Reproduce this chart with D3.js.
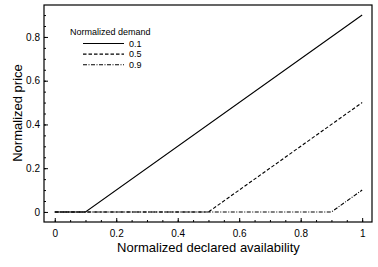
<!DOCTYPE html>
<html>
<head>
<meta charset="utf-8">
<script src="https://cdn.jsdelivr.net/npm/d3@7"></script>
<style>
  body { margin: 0; background: #fff; }
  svg { display: block; font-family: 'Liberation Sans', Arial, sans-serif; }
</style>
</head>
<body>
<script>
const width = 378;
const height = 267;
const margin = { top: 5, right: 6, bottom: 45, left: 44 };

// demand levels and their (availability, price) points
const demands = ['0.1', '0.5', '0.9'];
const availability01 = [0, 0.1, 1];
const price01 = [0, 0, 0.9];
const availability05 = [0, 0.5, 1];
const price05 = [0, 0, 0.5];
const availability09 = [0, 0.9, 1];
const price09 = [0, 0, 0.1];
const xTicks = [0, 0.2, 0.4, 0.6, 0.8, 1];
const yTicks = [0, 0.2, 0.4, 0.6, 0.8];

const series = [
  { name: demands[0], xs: availability01, ys: price01, dash: null },
  { name: demands[1], xs: availability05, ys: price05, dash: '3.5,2' },
  { name: demands[2], xs: availability09, ys: price09, dash: '4,1.5,1,1.5' }
];

const svg = d3.select('body').append('svg')
  .attr('width', width)
  .attr('height', height);

const x = d3.scaleLinear()
  .domain([-0.035, 1.032])
  .range([margin.left, width - margin.right]);

const y = d3.scaleLinear()
  .domain([-0.046, 0.946])
  .range([height - margin.bottom, margin.top]);

// minor ticks
const xMinor = d3.range(0, 1.001, 0.05);
const yMinor = d3.range(0, 0.901, 0.05);

svg.append('g')
  .attr('transform', `translate(0,${height - margin.bottom})`)
  .call(d3.axisBottom(x).tickValues(xMinor).tickSize(-2).tickFormat(''))
  .call(g => g.select('.domain').remove());

svg.append('g')
  .attr('transform', `translate(${margin.left},0)`)
  .call(d3.axisLeft(y).tickValues(yMinor).tickSize(-2).tickFormat(''))
  .call(g => g.select('.domain').remove());

svg.append('g')
  .attr('transform', `translate(0,${height - margin.bottom})`)
  .call(d3.axisBottom(x).tickValues(xTicks).tickSize(-4).tickPadding(8)
    .tickFormat(d3.format('~g')))
  .call(g => g.select('.domain').remove())
  .call(g => g.selectAll('text').attr('font-size', 10).attr('fill', '#000'));

svg.append('g')
  .attr('transform', `translate(${margin.left},0)`)
  .call(d3.axisLeft(y).tickValues(yTicks).tickSize(-4).tickPadding(4)
    .tickFormat(d3.format('~g')))
  .call(g => g.select('.domain').remove())
  .call(g => g.selectAll('text').attr('font-size', 10).attr('fill', '#000'));

// frame
svg.append('rect')
  .attr('x', margin.left)
  .attr('y', margin.top)
  .attr('width', width - margin.left - margin.right)
  .attr('height', height - margin.top - margin.bottom)
  .attr('fill', 'none')
  .attr('stroke', '#000')
  .attr('stroke-width', 1.2);

const line = d3.line()
  .x(d => x(d[0]))
  .y(d => y(d[1]));

svg.append('g')
  .selectAll('path')
  .data(series)
  .join('path')
  .attr('d', d => line(d.xs.map((v, i) => [v, d.ys[i]])))
  .attr('fill', 'none')
  .attr('stroke', '#000')
  .attr('stroke-width', 1.1)
  .attr('stroke-dasharray', d => d.dash);

// legend
const legend = svg.append('g');

legend.append('text')
  .attr('x', 70)
  .attr('y', 35)
  .attr('font-size', 9)
  .text('Normalized demand');

const rows = legend.selectAll('g')
  .data(series)
  .join('g')
  .attr('transform', (d, i) => `translate(0,${43.5 + i * 10.6})`);

rows.append('line')
  .attr('x1', 83)
  .attr('x2', 124)
  .attr('stroke', '#000')
  .attr('stroke-width', 1.1)
  .attr('stroke-dasharray', d => d.dash);

rows.append('text')
  .attr('x', 129)
  .attr('dy', '0.35em')
  .attr('font-size', 9)
  .text(d => d.name);

// axis titles
svg.append('text')
  .attr('x', (x(0) + x(1)) / 2)
  .attr('y', 252)
  .attr('text-anchor', 'middle')
  .attr('font-size', 13)
  .text('Normalized declared availability');

svg.append('text')
  .attr('transform', `translate(22,113) rotate(-90)`)
  .attr('text-anchor', 'middle')
  .attr('font-size', 13)
  .text('Normalized price');
</script>
</body>
</html>
